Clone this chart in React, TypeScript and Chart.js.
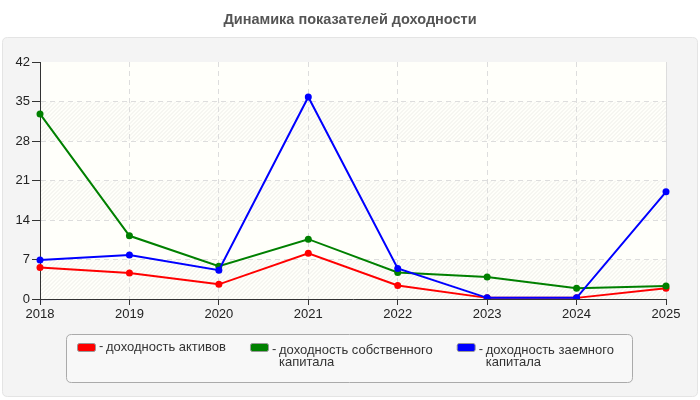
import React, { useEffect, useRef } from 'react';
import { Chart, registerables } from 'chart.js';

Chart.register(...registerables);

const years = ['2018', '2019', '2020', '2021', '2022', '2023', '2024', '2025'];
const assetsReturn = [5.6, 4.6, 2.6, 8.1, 2.4, 0.2, 0.2, 1.9];
const equityReturn = [32.8, 11.2, 5.8, 10.6, 4.7, 3.9, 1.9, 2.3];
const debtReturn = [6.9, 7.8, 5.1, 35.8, 5.4, 0.2, 0.2, 19.0];
const seriesNames = [
  ['доходность активов'],
  ['доходность собственного', 'капитала'],
  ['доходность заемного', 'капитала'],
];
const title = 'Динамика показателей доходности';

const FONT = '"Liberation Sans", Arial, sans-serif';

function roundRect(ctx: CanvasRenderingContext2D, x: number, y: number, w: number, h: number, r: number) {
  ctx.beginPath();
  ctx.moveTo(x + r, y);
  ctx.lineTo(x + w - r, y);
  ctx.quadraticCurveTo(x + w, y, x + w, y + r);
  ctx.lineTo(x + w, y + h - r);
  ctx.quadraticCurveTo(x + w, y + h, x + w - r, y + h);
  ctx.lineTo(x + r, y + h);
  ctx.quadraticCurveTo(x, y + h, x, y + h - r);
  ctx.lineTo(x, y + r);
  ctx.quadraticCurveTo(x, y, x + r, y);
  ctx.closePath();
}

// panel, title and hatched plot background
const backdrop = {
  id: 'backdrop',
  beforeDraw(chart: any) {
    const { ctx, chartArea: a, scales } = chart;
    ctx.save();
    ctx.fillStyle = '#ffffff';
    ctx.fillRect(0, 0, chart.width, chart.height);

    roundRect(ctx, 2.5, 37.5, 695, 359, 5);
    ctx.fillStyle = '#f4f4f4';
    ctx.fill();
    ctx.strokeStyle = '#e4e4e4';
    ctx.lineWidth = 1;
    ctx.stroke();

    ctx.fillStyle = '#555';
    ctx.font = 'bold 14.5px ' + FONT;
    ctx.textAlign = 'center';
    ctx.textBaseline = 'middle';
    ctx.fillText(title, chart.width / 2, 20);

    ctx.fillStyle = '#fffffa';
    ctx.fillRect(a.left, a.top, a.right - a.left, a.bottom - a.top);

    // alternating hatched bands
    const y = scales.y;
    ctx.strokeStyle = 'rgba(0,0,0,0.07)';
    for (let v = 0; v < 42; v += 14) {
      const top = y.getPixelForValue(v + 7);
      const bot = y.getPixelForValue(v);
      ctx.save();
      ctx.beginPath();
      ctx.rect(a.left, top, a.right - a.left, bot - top);
      ctx.clip();
      ctx.beginPath();
      for (let x = a.left - (bot - top); x < a.right; x += 4) {
        ctx.moveTo(x, bot);
        ctx.lineTo(x + (bot - top), top);
      }
      ctx.stroke();
      ctx.restore();
    }

    ctx.strokeStyle = '#dcdcdc';
    ctx.beginPath();
    ctx.moveTo(a.right + 0.5, a.top);
    ctx.lineTo(a.right + 0.5, a.bottom);
    ctx.stroke();
    ctx.restore();
  },
};

// boxed legend under the plot
const boxLegend = {
  id: 'boxLegend',
  afterDraw(chart: any) {
    const { ctx } = chart;
    ctx.save();
    roundRect(ctx, 66.5, 334.5, 566, 48, 5);
    ctx.fillStyle = '#f8f8f8';
    ctx.fill();
    ctx.strokeStyle = '#aaaaaa';
    ctx.lineWidth = 1;
    ctx.stroke();

    ctx.font = '13px ' + FONT;
    ctx.textBaseline = 'middle';
    ctx.textAlign = 'left';
    let x = 77;
    chart.data.datasets.forEach((ds: any, i: number) => {
      const lines = seriesNames[i];
      const y0 = lines.length > 1 ? 350 : 347;
      roundRect(ctx, x + 0.5, 343.5, 18, 8, 2);
      ctx.fillStyle = ds.borderColor;
      ctx.fill();
      ctx.strokeStyle = '#999';
      ctx.stroke();
      ctx.fillStyle = '#333';
      ctx.fillText('-', x + 22, y0 - 1);
      let maxW = 0;
      lines.forEach((line, j) => {
        ctx.fillText(line, x + 29, y0 + j * 12.5);
        maxW = Math.max(maxW, ctx.measureText(line).width);
      });
      x = x + 29 + maxW + 24;
    });
    ctx.restore();
  },
};

const App: React.FC = () => {
  const canvasRef = useRef<HTMLCanvasElement>(null);

  useEffect(() => {
    document.body.style.margin = '0';
    const ctx = canvasRef.current?.getContext('2d');
    if (!ctx) return;
    const line = (label: string, data: number[], color: string, order: number) => ({
      label,
      data,
      borderColor: color,
      backgroundColor: color,
      pointBackgroundColor: color,
      pointBorderColor: color,
      borderWidth: 2,
      pointRadius: 3.5,
      pointBorderWidth: 0,
      tension: 0,
      fill: false,
      order,
    });
    const chart = new Chart(ctx, {
      type: 'line',
      data: {
        labels: years,
        datasets: [
          line(seriesNames[0].join(' '), assetsReturn, '#ff0000', 3),
          line(seriesNames[1].join(' '), equityReturn, '#008000', 2),
          line(seriesNames[2].join(' '), debtReturn, '#0000ff', 1),
        ],
      },
      options: {
        animation: false,
        responsive: false,
        layout: { padding: { left: 0, right: 34, top: 62, bottom: 79 } },
        plugins: {
          legend: { display: false },
          title: { display: false },
          tooltip: { enabled: false },
        },
        scales: {
          x: {
            offset: false,
            afterFit: (s: any) => { s.height = 22; },
            grid: {
              color: '#dddddd',
              tickColor: '#333',
              tickLength: 6,
              tickBorderDash: [],
            },
            border: { color: '#333', width: 1, dash: [5, 4] },
            ticks: { color: '#222', font: { family: FONT, size: 13 }, padding: 2, maxRotation: 0 },
          },
          y: {
            min: 0,
            max: 42,
            afterFit: (s: any) => { s.width = 40; },
            grid: {
              color: (c: any) => (c.tick && c.tick.value === 42 ? 'rgba(0,0,0,0)' : '#dddddd'),
              tickColor: '#333',
              tickLength: 8,
              tickBorderDash: [],
            },
            border: { color: '#333', width: 1, dash: [5, 4] },
            ticks: { stepSize: 7, color: '#222', font: { family: FONT, size: 13 }, padding: 2 },
          },
        },
      },
      plugins: [backdrop, boxLegend],
    });
    return () => chart.destroy();
  }, []);

  return <canvas ref={canvasRef} width={700} height={400} style={{ display: 'block' }} />;
};

export default App;
